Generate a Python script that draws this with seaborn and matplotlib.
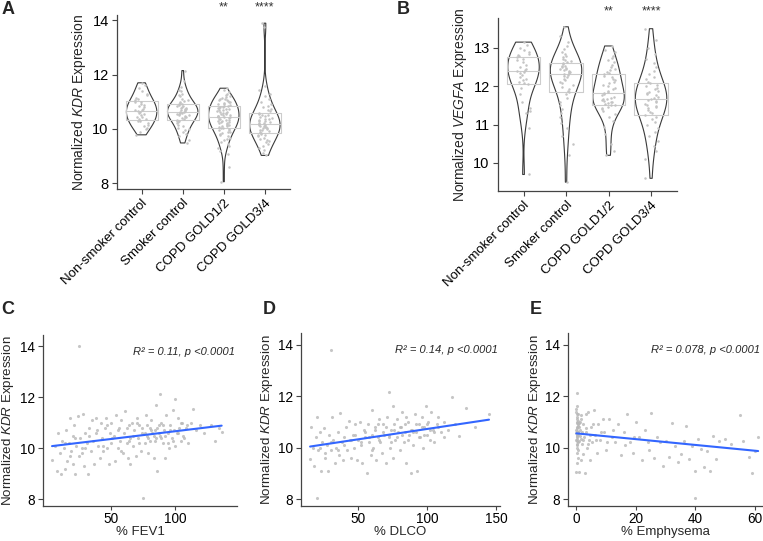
import numpy as np
import pandas as pd
import seaborn as sns
import matplotlib.pyplot as plt
from matplotlib import transforms

groups = ["Non-smoker control", "Smoker control", "COPD GOLD1/2", "COPD GOLD3/4"]

# ---- panel A: KDR by group
kdr_nonsmoker = [11.70, 11.62, 11.5, 11.4, 11.3, 11.25, 11.15, 11.1, 11.05, 11.0, 10.98, 10.92,
                 10.88, 10.85, 10.8, 10.75, 10.7, 10.68, 10.65, 10.62, 10.6, 10.55, 10.5, 10.45,
                 10.42, 10.38, 10.35, 10.3, 10.28, 10.2, 10.15, 10.1, 10.05, 9.98, 9.9, 9.78]
kdr_smoker = [12.15, 11.75, 11.55, 11.45, 11.38, 11.3, 11.25, 11.2, 11.12, 11.08, 11.02, 10.98,
              10.95, 10.92, 10.9, 10.88, 10.85, 10.83, 10.8, 10.78, 10.76, 10.74, 10.72, 10.7,
              10.68, 10.66, 10.64, 10.62, 10.6, 10.58, 10.56, 10.54, 10.52, 10.5, 10.48, 10.45,
              10.42, 10.4, 10.37, 10.34, 10.3, 10.28, 10.25, 10.2, 10.15, 10.1, 10.05, 10.0,
              9.95, 9.88, 9.8, 9.72, 9.6, 9.48]
kdr_gold12 = [11.5, 11.42, 11.35, 11.3, 11.25, 11.2, 11.18, 11.15, 11.12, 11.1, 11.08, 11.05,
              11.02, 11.0, 10.98, 10.95, 10.93, 10.9, 10.88, 10.86, 10.84, 10.82, 10.8, 10.78,
              10.76, 10.74, 10.72, 10.7, 10.68, 10.66, 10.64, 10.62, 10.6, 10.58, 10.56, 10.54,
              10.52, 10.5, 10.48, 10.46, 10.45, 10.44, 10.42, 10.4, 10.38, 10.36, 10.34, 10.32,
              10.3, 10.28, 10.26, 10.24, 10.22, 10.2, 10.18, 10.16, 10.14, 10.12, 10.1, 10.08,
              10.05, 10.02, 10.0, 9.97, 9.94, 9.9, 9.87, 9.84, 9.8, 9.76, 9.72, 9.68, 9.63, 9.58,
              9.52, 9.45, 9.38, 9.3, 9.2, 9.08, 8.6, 8.05]
kdr_gold34 = [13.9, 13.75, 11.6, 11.45, 11.3, 11.2, 11.1, 11.0, 10.92, 10.85, 10.8, 10.75, 10.7,
              10.65, 10.6, 10.56, 10.52, 10.5, 10.47, 10.44, 10.41, 10.38, 10.35, 10.32, 10.3,
              10.28, 10.25, 10.22, 10.2, 10.18, 10.16, 10.14, 10.12, 10.1, 10.08, 10.06, 10.04,
              10.02, 10.0, 9.97, 9.94, 9.91, 9.88, 9.85, 9.82, 9.79, 9.76, 9.72, 9.68, 9.64, 9.6,
              9.55, 9.5, 9.45, 9.38, 9.3, 9.22, 9.12, 9.02]

# ---- panel B: VEGFA by group
vegfa_nonsmoker = [13.15, 13.08, 13.0, 12.95, 12.9, 12.85, 12.82, 12.8, 12.76, 12.72, 12.68,
                   12.62, 12.56, 12.5, 12.45, 12.42, 12.4, 12.38, 12.35, 12.3, 12.25, 12.2,
                   12.15, 12.1, 12.08, 12.05, 11.95, 11.8, 11.6, 11.42, 11.35, 11.3, 10.9, 9.7]
vegfa_smoker = [13.55, 13.3, 13.15, 13.05, 12.98, 12.9, 12.85, 12.8, 12.76, 12.72, 12.68, 12.65,
                12.62, 12.6, 12.57, 12.54, 12.52, 12.5, 12.48, 12.46, 12.44, 12.42, 12.4, 12.38,
                12.36, 12.34, 12.32, 12.3, 12.27, 12.24, 12.2, 12.16, 12.12, 12.08, 12.03, 11.98,
                11.92, 11.88, 11.85, 11.8, 11.7, 11.6, 11.5, 11.4, 11.3, 11.2, 11.05, 10.9, 10.7,
                10.5, 10.2, 9.5]
vegfa_gold12 = [13.05, 12.95, 12.88, 12.8, 12.74, 12.68, 12.62, 12.56, 12.5, 12.46, 12.42, 12.38,
                12.35, 12.32, 12.28, 12.24, 12.2, 12.16, 12.12, 12.08, 12.04, 12.0, 11.96, 11.92,
                11.88, 11.85, 11.82, 11.79, 11.76, 11.73, 11.7, 11.68, 11.66, 11.64, 11.62, 11.6,
                11.58, 11.56, 11.54, 11.52, 11.5, 11.47, 11.44, 11.4, 11.35, 11.28, 11.2, 11.1,
                10.95, 10.75, 10.5, 10.3, 10.2]
vegfa_gold34 = [13.5, 13.2, 13.0, 12.85, 12.7, 12.6, 12.5, 12.4, 12.32, 12.25, 12.18, 12.12, 12.08,
                12.04, 12.0, 11.96, 11.92, 11.88, 11.85, 11.82, 11.79, 11.76, 11.73, 11.7, 11.67,
                11.64, 11.61, 11.58, 11.55, 11.52, 11.49, 11.46, 11.42, 11.38, 11.34, 11.3, 11.26,
                11.2, 11.14, 11.06, 10.98, 10.9, 10.8, 10.7, 10.58, 10.45, 10.3, 10.1, 9.6]

stars_a = ["", "", "**", "****"]
stars_b = ["", "", "**", "****"]

# ---- panel C: % FEV1 vs KDR
fev1 = [4, 6, 8, 9, 10, 11, 12, 13, 14, 15, 16, 17, 18, 19, 20, 20,
        21, 22, 23, 24, 25, 25, 26, 27, 28, 29, 30, 31, 32, 33, 34, 35,
        36, 37, 38, 39, 40, 41, 42, 43, 44, 45, 46, 47, 48, 49, 50, 50,
        52, 53, 54, 55, 56, 57, 58, 59, 60, 61, 62, 63, 64, 65, 65,
        66, 67, 68, 69, 70, 71, 72, 73, 74, 75, 76, 77, 78, 79, 80, 80,
        81, 82, 83, 84, 85, 85, 86, 87, 88, 88, 89, 90, 91, 92, 93, 94, 95,
        96, 97, 98, 99, 100, 100, 101, 102, 103, 104, 105, 106, 108, 110,
        112, 114, 116, 119, 122, 128, 131, 134, 136,
        38, 44, 47, 51, 55, 58, 62, 64, 67, 70, 72, 74, 76, 78, 79, 81, 83, 84,
        86, 87, 89, 90, 92, 94, 96, 98, 102, 104, 107, 109, 22, 27, 30, 33, 18, 14]
kdr_fev1 = [9.55, 10.1, 9.1, 10.6, 9.8, 9.0, 10.3, 10.0, 9.2, 10.7, 9.5, 10.2, 11.2, 9.9, 10.5, 9.4,
            10.9, 9.0, 10.1, 11.25, 14.0, 9.7, 10.4, 10.0, 11.35, 9.3, 10.6, 10.2, 9.0, 10.8, 9.9, 11.1,
            10.3, 9.4, 11.2, 10.7, 10.1, 9.6, 11.0, 10.4, 9.9, 10.8, 11.2, 10.0, 9.4, 10.6, 10.2, 11.0,
            10.5, 9.5, 11.3, 10.0, 10.8, 10.3, 11.1, 9.8, 10.6, 11.45, 10.2, 9.6, 10.9, 10.4, 9.4,
            11.0, 10.1, 10.7, 9.7, 11.2, 10.4, 10.9, 9.9, 10.6, 8.05, 10.2, 11.3, 10.5, 9.8, 10.8, 10.3,
            11.1, 10.6, 9.6, 10.7, 11.7, 10.4, 9.1, 10.9, 12.15, 10.5, 11.0, 10.2, 10.7, 9.6, 11.3, 10.6, 10.0,
            10.9, 10.4, 11.5, 10.7, 11.95, 10.1, 10.6, 11.2, 10.8, 10.3, 11.0, 10.5, 10.8, 10.2,
            11.0, 11.55, 10.7, 10.9, 10.6, 10.9, 10.3, 10.8, 10.65,
            10.6, 10.1, 10.9, 10.4, 10.7, 9.9, 10.8, 10.3, 10.5, 11.0, 10.2, 10.8, 10.6, 10.9, 10.4, 10.7,
            10.5, 10.3, 10.8, 10.6, 10.4, 10.9, 10.5, 10.2, 10.7, 10.3, 10.6, 11.0, 10.4, 10.9,
            10.4, 9.8, 10.0, 10.5, 9.7, 10.2]

# ---- panel D: % DLCO vs KDR
dlco = [15, 16, 17, 18, 19, 20, 20, 21, 22, 23, 24, 25, 26, 27, 28, 29, 30, 30,
        31, 32, 33, 34, 35, 36, 37, 38, 39, 40, 41, 42, 43, 44, 45,
        46, 47, 48, 49, 50, 51, 52, 53, 54, 55, 56, 57, 58, 59, 60, 60,
        61, 62, 63, 64, 65, 66, 67, 68, 69, 70, 71, 72, 72, 73, 74, 75, 75,
        76, 77, 78, 79, 80, 81, 82, 83, 84, 85, 86, 87, 88, 89, 90,
        91, 92, 93, 94, 95, 96, 97, 98, 99, 100, 101, 102, 103, 104, 105,
        107, 108, 110, 112, 115, 118, 120, 123, 128, 135, 145,
        40, 45, 48, 52, 55, 58, 62, 65, 68, 70, 72, 74, 76, 78, 80, 82, 84, 86,
        88, 90, 92, 94, 96, 98, 100, 102, 105, 108, 35, 30, 26, 22, 60, 64, 85, 112]
kdr_dlco = [9.55, 10.8, 10.0, 9.3, 10.4, 8.05, 11.2, 9.9, 10.6, 9.1, 10.2, 10.75, 9.6, 10.1, 9.1, 10.5, 13.8, 9.9,
            11.2, 10.3, 9.4, 10.0, 10.6, 9.7, 11.35, 10.2, 9.5, 10.4, 10.8, 9.9, 11.05, 10.3, 9.6,
            10.5, 10.0, 10.9, 9.5, 10.3, 11.0, 10.1, 9.4, 10.7, 10.4, 9.0, 10.9, 10.2, 9.7, 11.45, 10.5,
            10.0, 10.8, 9.5, 10.4, 11.1, 10.2, 9.8, 10.9, 10.5, 9.4, 11.2, 12.15, 10.4, 10.0, 10.7, 11.6, 9.6,
            10.9, 10.3, 11.1, 10.6, 9.9, 10.8, 11.4, 10.2, 10.6, 9.4, 11.0, 10.5, 9.0, 10.7, 10.1,
            11.3, 10.6, 9.1, 10.9, 10.4, 11.2, 10.0, 10.8, 11.6, 10.5, 11.0, 10.3, 11.4, 10.7, 10.2,
            10.9, 11.2, 10.6, 11.0, 10.7, 11.95, 10.9, 10.45, 11.55, 10.8, 11.3,
            10.1, 10.3, 10.5, 10.2, 10.6, 10.4, 10.7, 10.3, 10.6, 10.8, 10.5, 10.2, 10.7, 10.4, 10.8, 10.5,
            10.9, 10.3, 10.7, 10.6, 10.9, 10.4, 10.8, 10.5, 10.9, 10.7, 10.6, 10.8, 9.9, 10.2, 9.8, 10.0,
            9.9, 10.9, 11.2, 10.4]

# ---- panel E: % Emphysema vs KDR
emphysema = [0.2, 0.3, 0.1, 0.4, 0.2, 0.5, 0.3, 0.1, 0.6, 0.2, 0.4, 0.3, 0.1, 0.5, 0.2, 0.4, 0.3,
             0.6, 0.2, 0.1, 0.8, 0.9, 0.7, 1.0, 0.8, 1.1, 1.2, 1.4, 1.5, 1.6, 1.8, 2.0, 2.2, 2.5,
             2.8, 3.0, 3.2, 3.5, 3.8, 4.0, 4.3, 4.6, 5.0, 5.5, 6.0, 6.5, 7.0, 7.5, 8.0, 9.0, 9.5,
             10, 11, 12, 13, 14, 15, 16, 17, 18, 19, 20, 21, 22, 23, 24, 25, 26, 27, 28, 29, 30,
             31, 32, 33, 34, 35, 36, 37, 38, 39, 40, 40, 41, 42, 42, 43, 44, 45, 46, 47, 48, 50,
             52, 55, 56, 58, 59, 60, 61,
             0.1, 0.2, 0.3, 0.4, 0.5, 0.2, 0.3, 0.1, 0.6, 0.4, 0.2, 0.3, 0.7, 0.5, 1.0,
             1.3, 1.7, 2.1, 2.4, 3.3, 3.9, 4.8, 5.8, 6.8, 8.5, 10.5, 12.5, 16.5, 19.5, 24.5]
kdr_emph = [12.1, 11.6, 11.4, 11.2, 11.0, 10.9, 10.8, 10.7, 10.6, 10.5, 10.45, 10.4, 10.3, 10.2,
            10.1, 10.0, 9.8, 9.6, 9.4, 9.05, 11.3, 10.95, 10.55, 10.25, 9.9, 9.05, 11.0, 10.7, 10.35,
            9.5, 11.25, 10.15, 9.75, 10.9, 10.4, 9.0, 11.3, 10.6, 10.0, 11.4, 10.3, 9.5, 10.8, 10.2,
            11.45, 10.5, 9.8, 10.9, 10.3, 11.1, 10.6, 9.9, 11.1, 10.4, 10.2, 10.9, 9.7, 10.6, 11.3,
            10.2, 9.8, 11.0, 10.4, 9.5, 10.7, 10.2, 11.35, 9.6, 10.4, 10.2, 9.3, 10.25, 9.65, 10.95,
            10.05, 9.45, 9.75, 10.25, 10.85, 9.55, 10.05, 8.05, 9.1, 10.35, 13.75, 9.95, 9.25, 9.85, 9.1,
            10.45, 9.55, 10.25, 10.35, 10.15, 11.25, 10.25, 9.65, 9.0, 9.85, 10.4,
            11.5, 11.3, 11.1, 10.95, 10.85, 10.75, 10.65, 10.55, 10.5, 10.35, 10.25, 10.15, 11.05,
            10.6, 10.8, 10.45, 11.1, 10.6, 10.3, 10.75, 10.15, 10.5, 10.9, 10.3, 10.6, 10.2, 10.7,
            10.1, 10.4, 9.9]

sns.set_style("ticks")
plt.rcParams["font.family"] = ["Liberation Sans", "DejaVu Sans"]
plt.rcParams["mathtext.fontset"] = "custom"
plt.rcParams["mathtext.rm"] = "Liberation Sans"
plt.rcParams["mathtext.it"] = "Liberation Sans:italic"

spine_col = "#444444"
fig = plt.figure(figsize=(7.63, 5.41), dpi=100)


def style_axes(ax):
    sns.despine(ax=ax)
    for s in ("left", "bottom"):
        ax.spines[s].set_color(spine_col)
        ax.spines[s].set_linewidth(0.9)
    ax.tick_params(colors=spine_col, labelcolor="black", labelsize=10.5, length=3.5,
                   width=0.8, pad=2.5)


def violin_panel(rect, values, ylim, yticks, ylabel, stars, star_y):
    ax = fig.add_axes(rect)
    df = pd.DataFrame({"group": np.repeat(groups, [len(v) for v in values]),
                       "value": np.concatenate(values)})
    sns.boxplot(data=df, x="group", y="value", order=groups, ax=ax, width=0.78,
                fill=False, color="#cccccc", whis=0, showfliers=False, showcaps=False,
                linewidth=0.8)
    sns.violinplot(data=df, x="group", y="value", order=groups, ax=ax, cut=0,
                   inner=None, fill=False, color="#3a3a3a", linewidth=0.8,
                   density_norm="width", width=0.74)
    np.random.seed(3)  # jitter only
    sns.stripplot(data=df, x="group", y="value", order=groups, ax=ax, size=1.8,
                  color="#c4c4c4", linewidth=0, jitter=0.17)
    ax.set_xlim(-0.6, 3.61)
    ax.set_ylim(*ylim)
    ax.set_yticks(yticks)
    ax.set_xticks(range(len(groups)))
    ax.set_xticklabels(groups, rotation=45, ha="right", rotation_mode="anchor", fontsize=9.5)
    shift = transforms.ScaledTranslation(0.08, 0, fig.dpi_scale_trans)
    for lab in ax.get_xticklabels():
        lab.set_transform(lab.get_transform() + shift)
    ax.set_xlabel(None)
    ax.set_ylabel(ylabel, fontsize=10, labelpad=3)
    style_axes(ax)
    ax.tick_params(axis="x", labelsize=9.5)
    trans = transforms.blended_transform_factory(ax.transData, ax.transAxes)
    for i, s in enumerate(stars):
        if s:
            ax.text(i, star_y, s, transform=trans, ha="center", va="center",
                    fontsize=9, color="#333333")
    return ax


def scatter_panel(rect, x, y, xlim, xticks, xlabel, stat_text, ylab_x):
    ax = fig.add_axes(rect)
    sns.regplot(x=x, y=y, ax=ax, ci=None,
                scatter_kws=dict(s=5, color="#b8b8b8", linewidths=0),
                line_kws=dict(color="#3366ff", lw=1.5))
    ax.set_xlim(*xlim)
    ax.set_ylim(7.73, 14.45)
    ax.set_yticks([8, 10, 12, 14])
    ax.set_xticks(xticks)
    style_axes(ax)
    ax.tick_params(labelsize=9.8)
    ax.tick_params(axis="x", length=3, pad=1.5)
    ax.set_xlabel(xlabel, fontsize=9.5)
    ax.xaxis.set_label_coords(0.5, -0.117)
    ax.set_ylabel(r"Normalized $\mathit{KDR}$ Expression", fontsize=9.6)
    ax.yaxis.set_label_coords(ylab_x, 0.5)
    ax.text(0.99, 0.9, stat_text, transform=ax.transAxes, ha="right", va="center",
            fontsize=8, style="italic")
    return ax


violin_panel([0.1533, 0.6506, 0.2267, 0.3216],
             [kdr_nonsmoker, kdr_smoker, kdr_gold12, kdr_gold34],
             (7.78, 14.2), [8, 10, 12, 14],
             r"Normalized $\mathit{KDR}$ Expression", stars_a, 1.046)
violin_panel([0.6527, 0.6470, 0.2346, 0.3198],
             [vegfa_nonsmoker, vegfa_smoker, vegfa_gold12, vegfa_gold34],
             (9.27, 13.78), [10, 11, 12, 13],
             r"Normalized $\mathit{VEGFA}$ Expression", stars_b, 1.04)

scatter_panel([0.0564, 0.0647, 0.2543, 0.3160], fev1, kdr_fev1,
              (-3, 148), [50, 100], "% FEV1", "R² = 0.11, p <0.0001", -0.14)
scatter_panel([0.3945, 0.0647, 0.2608, 0.3198], dlco, kdr_dlco,
              (8.4, 153), [50, 100, 150], "% DLCO", "R² = 0.14, p <0.0001", -0.13)
scatter_panel([0.7444, 0.0647, 0.2543, 0.3198], emphysema, kdr_emph,
              (-2.7, 62.3), [0, 20, 40, 60], "% Emphysema", "R² = 0.078, p <0.0001", -0.13)

for letter, px, py in [("A", 2, 10), ("B", 397, 10), ("C", 1, 310), ("D", 263, 310), ("E", 530, 310)]:
    fig.text(px / 763, 1 - py / 541, letter, fontsize=13, fontweight="bold", va="center", ha="left")

fig.savefig("out.png", dpi=100)
